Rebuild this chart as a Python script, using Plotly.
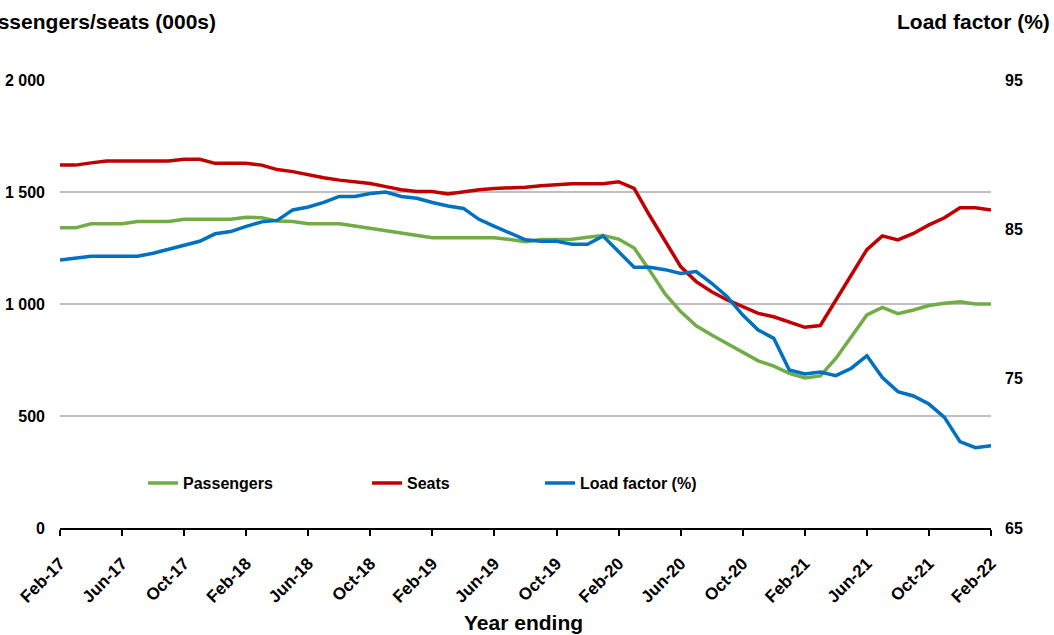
import plotly.graph_objects as go
import pandas as pd

# Monthly categories (year ending), Feb-17 .. Feb-22
months = pd.date_range("2017-02-01", "2022-02-01", freq="MS").strftime("%b-%y").tolist()
tick_months = months[::4]

# Passengers (000s)
passengers = [1340, 1340, 1358, 1358, 1358, 1368, 1368, 1368, 1378, 1378,
              1378, 1378, 1387, 1385, 1370, 1368, 1358, 1358, 1358, 1348,
              1338, 1328, 1318, 1308, 1296, 1296, 1296, 1296, 1296, 1288,
              1278, 1288, 1288, 1289, 1298, 1306, 1290, 1250, 1150, 1045,
              966, 903, 862, 824, 785, 746, 723, 690, 670, 679,
              757, 854, 951, 985, 957, 973, 993, 1003, 1010, 1000, 1000]

# Seats (000s)
seats = [1620, 1620, 1630, 1638, 1638, 1638, 1638, 1638, 1646, 1646,
         1628, 1628, 1628, 1620, 1600, 1591, 1576, 1564, 1553, 1545,
         1538, 1524, 1510, 1502, 1502, 1491, 1502, 1510, 1516, 1518,
         1521, 1528, 1532, 1537, 1537, 1537, 1546, 1516, 1395, 1280,
         1167, 1100, 1055, 1018, 988, 958, 943, 921, 896, 904,
         1018, 1129, 1243, 1304, 1286, 1315, 1353, 1385, 1430, 1430, 1420]

# Load factor (%)
load_factor = [82.95, 83.1, 83.2, 83.2, 83.2, 83.2, 83.4, 83.65, 83.95, 84.2,
               84.7, 84.85, 85.2, 85.5, 85.6, 86.3, 86.5, 86.8, 87.2, 87.2,
               87.4, 87.5, 87.2, 87.08, 86.8, 86.56, 86.4, 85.67, 85.2, 84.73,
               84.3, 84.2, 84.2, 84.0, 84.0, 84.55, 83.5, 82.46, 82.46, 82.3,
               82.05, 82.17, 81.39, 80.49, 79.26, 78.26, 77.7, 75.58, 75.31, 75.45,
               75.2, 75.7, 76.54, 75.07, 74.13, 73.84, 73.3, 72.41, 70.78, 70.38, 70.51]

left_ticks = [0, 500, 1000, 1500, 2000]
left_ticktext = ["0", "500", "1 000", "1 500", "2 000"]
right_ticks = [65, 75, 85, 95]

FONT = "Arial, Liberation Sans, sans-serif"

fig = go.Figure()
fig.add_trace(go.Scatter(x=months, y=passengers, name="Passengers", mode="lines", showlegend=True,
                         line=dict(color="#70AD47", width=3.5), legend="legend"))
fig.add_trace(go.Scatter(x=months, y=seats, name="Seats", mode="lines", showlegend=True,
                         line=dict(color="#C00000", width=3.5), legend="legend2"))
fig.add_trace(go.Scatter(x=months, y=load_factor, name="Load factor (%)", mode="lines", showlegend=True,
                         yaxis="y2", line=dict(color="#0070C0", width=3.5), legend="legend3"))

legend_common = dict(orientation="h", yanchor="middle", y=0.1, xanchor="left",
                     bgcolor="rgba(0,0,0,0)", borderwidth=0,
                     font=dict(family=FONT, size=16, color="black", weight="bold"))

fig.update_layout(
    width=1054, height=635,
    margin=dict(l=60, r=63, t=80, b=107),
    plot_bgcolor="white", paper_bgcolor="white",
    font=dict(family=FONT, color="black"),
    showlegend=True,
    legend=dict(x=0.0892, **legend_common),
    legend2=dict(x=0.3298, **legend_common),
    legend3=dict(x=0.5156, **legend_common),
    xaxis=dict(type="category", range=[0, len(months) - 1], automargin=False,
               tickmode="array", tickvals=tick_months, ticktext=tick_months,
               tickangle=-45, ticks="outside", ticklen=6, tickwidth=1.5, tickcolor="black",
               ticklabelstandoff=11,
               showline=True, linecolor="black", linewidth=2, showgrid=False,
               tickfont=dict(family=FONT, size=17, color="black", weight="bold")),
    yaxis=dict(range=[0, 2000], tickmode="array", tickvals=left_ticks, ticktext=left_ticktext,
               automargin=False,
               showgrid=True, gridcolor="#C0C0C0", gridwidth=1.5, zeroline=False, showline=False,
               ticks="", ticklabelstandoff=14,
               tickfont=dict(family=FONT, size=16, color="black", weight="bold")),
    yaxis2=dict(range=[65, 95], tickmode="array", tickvals=right_ticks, overlaying="y", side="right",
                automargin=False,
                showgrid=False, zeroline=False, showline=False, ticks="", ticklabelstandoff=13,
                tickfont=dict(family=FONT, size=16, color="black", weight="bold")),
    annotations=[
        dict(text="Passengers/seats (000s)", xref="paper", yref="paper", x=(218 - 60) / 931,
             y=(528 - 22) / 448, xanchor="right", yanchor="middle", showarrow=False,
             font=dict(family=FONT, size=21, color="black", weight="bold")),
        dict(text="Load factor (%)", xref="paper", yref="paper", x=(1052 - 60) / 931,
             y=(528 - 22) / 448, xanchor="right", yanchor="middle", showarrow=False,
             font=dict(family=FONT, size=21, color="black", weight="bold")),
        dict(text="Year ending", xref="paper", yref="paper", x=(523 - 60) / 931,
             y=(528 - 622) / 448, xanchor="center", yanchor="middle", showarrow=False,
             font=dict(family=FONT, size=21, color="black", weight="bold")),
    ],
)

fig.write_html("out.html", config={"displayModeBar": False},
               post_script="document.body.style.margin='0px';")
